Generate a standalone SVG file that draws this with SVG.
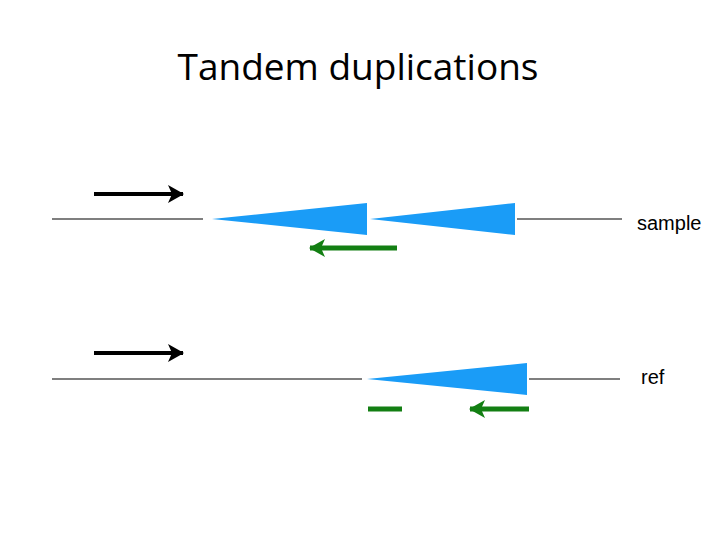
<svg xmlns="http://www.w3.org/2000/svg" width="720" height="540" viewBox="0 0 720 540">
<style>
.ln{stroke:#000;stroke-width:1.2}
.bk{stroke:#000;stroke-width:4}
.gr{stroke:#137f13;stroke-width:5}
.tri{fill:#1a9cf7}
.lbl{font-family:"Liberation Sans",Arial,sans-serif;font-size:20px;fill:#000}
</style>
<defs>
<marker id="hb" markerWidth="10" markerHeight="10" viewBox="0 0 10 10" refX="9" refY="5" orient="auto" markerUnits="userSpaceOnUse"><path d="M0,0 L10,5 L0,10 L3,5 Z" fill="#000" transform="scale(1)"/></marker>
<marker id="hg" markerWidth="16" markerHeight="18" viewBox="0 0 16 18" refX="15" refY="9" orient="auto" markerUnits="userSpaceOnUse"><path d="M0,0 L16,9 L0,18 L4,9 Z" fill="#137f13"/></marker>
<marker id="hk" markerWidth="16" markerHeight="18" viewBox="0 0 16 18" refX="15" refY="9" orient="auto" markerUnits="userSpaceOnUse"><path d="M0,0 L16,9 L0,18 L4,9 Z" fill="#000"/></marker>
</defs>
<rect width="720" height="540" fill="#fff"/>
<text x="358" y="80" text-anchor="middle" font-family="'Open Sans',sans-serif" font-size="37" fill="#000">Tandem duplications</text>
<g id="sample">
<line class="ln" x1="52" y1="219" x2="203" y2="219"/>
<polygon class="tri" points="212,219 367,203 367,235"/>
<polygon class="tri" points="370,219 515,203 515,235"/>
<line class="ln" x1="517" y1="219" x2="622" y2="219"/>
<text class="lbl" x="637" y="230">sample</text>
</g>
<g id="ref">
<line class="ln" x1="52" y1="379" x2="362" y2="379"/>
<polygon class="tri" points="367,379 527,363 527,395"/>
<line class="ln" x1="529" y1="379" x2="620" y2="379"/>
<text class="lbl" x="641" y="384">ref</text>
</g>
<g id="connectors">
<line class="bk" x1="94" y1="194" x2="183" y2="194" marker-end="url(#hk)"/>
<line class="gr" x1="397" y1="248" x2="310" y2="248" marker-end="url(#hg)"/>
<line class="bk" x1="94" y1="353" x2="183" y2="353" marker-end="url(#hk)"/>
<line class="gr" x1="368" y1="409" x2="402" y2="409"/>
<line class="gr" x1="529" y1="409" x2="470" y2="409" marker-end="url(#hg)"/>
</g>
</svg>
